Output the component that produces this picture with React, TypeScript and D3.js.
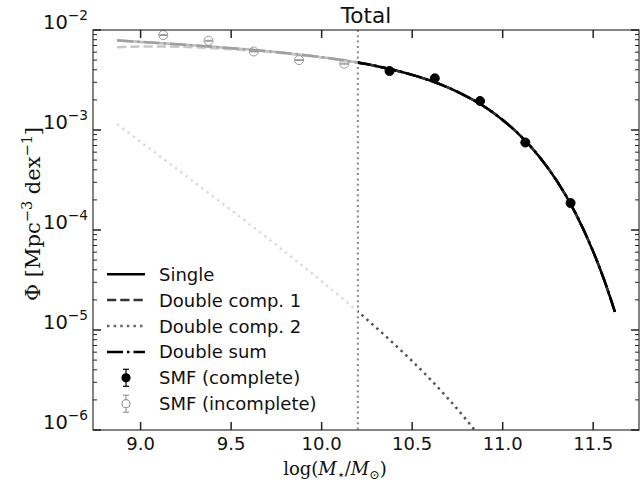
import React from "react";
import * as d3 from "d3";

// curve sample grid (log stellar mass)
const massGrid = [8.87, 9.0, 9.2, 9.4, 9.6, 9.8, 10.0, 10.2, 10.3, 10.4, 10.5, 10.6, 10.7, 10.8, 10.9, 11.0, 11.1, 11.2, 11.3, 11.4, 11.5, 11.56, 11.62];
const singlePhi = [7.87e-3, 7.6e-3, 7.21e-3, 6.79e-3, 6.37e-3, 5.89e-3, 5.35e-3, 4.72e-3, 4.37e-3, 3.98e-3, 3.56e-3, 3.12e-3, 2.65e-3, 2.17e-3, 1.71e-3, 1.26e-3, 8.69e-4, 5.47e-4, 3.08e-4, 1.5e-4, 6.08e-5, 3.19e-5, 1.52e-5];
const comp1Phi = [6.73e-3, 6.84e-3, 6.81e-3, 6.58e-3, 6.25e-3, 5.83e-3, 5.32e-3, 4.7e-3, 4.36e-3, 3.97e-3, 3.56e-3, 3.12e-3, 2.65e-3, 2.17e-3, 1.71e-3, 1.26e-3, 8.69e-4, 5.47e-4, 3.08e-4, 1.5e-4, 6.08e-5, 3.19e-5, 1.52e-5];
const comp2Mass = [8.87, 9.0, 9.2, 9.4, 9.6, 9.8, 10.0, 10.2, 10.3, 10.4, 10.5, 10.6, 10.7, 10.8, 10.9];
const comp2Phi = [1.15e-3, 7.62e-4, 4.08e-4, 2.17e-4, 1.15e-4, 5.98e-5, 3.07e-5, 1.53e-5, 1.06e-5, 7.26e-6, 4.89e-6, 3.21e-6, 2.05e-6, 1.26e-6, 7.43e-7];
const sumPhi = [7.88e-3, 7.6e-3, 7.22e-3, 6.8e-3, 6.37e-3, 5.89e-3, 5.35e-3, 4.72e-3, 4.37e-3, 3.98e-3, 3.56e-3, 3.12e-3, 2.65e-3, 2.17e-3, 1.71e-3, 1.26e-3, 8.69e-4, 5.47e-4, 3.08e-4, 1.5e-4, 6.08e-5, 3.19e-5, 1.52e-5];

// SMF points
const completeMass = [10.375, 10.625, 10.875, 11.125, 11.375];
const completePhi = [3.89e-3, 3.29e-3, 1.95e-3, 7.5e-4, 1.86e-4];
const completeErr = [6e-5, 5e-5, 3e-5, 1.5e-5, 6e-6];
const incompleteMass = [9.125, 9.375, 9.625, 9.875, 10.125];
const incompletePhi = [8.9e-3, 7.8e-3, 6.1e-3, 5.0e-3, 4.6e-3];
const incompleteErr = [9e-5, 8e-5, 6e-5, 5e-5, 5e-5];

const completenessLimit = 10.2;
const xTickValues = [9.0, 9.5, 10.0, 10.5, 11.0, 11.5];
const yTickExps = [-2, -3, -4, -5, -6];
const legendLabels = ["Single", "Double comp. 1", "Double comp. 2", "Double sum", "SMF (complete)", "SMF (incomplete)"];

const W = 640, H = 486;
const m = { left: 93, right: 639, top: 30, bottom: 430 };
const sans = "DejaVu Sans, sans-serif";
const serif = "DejaVu Serif, serif";

export default function App() {
  const x = d3.scaleLinear().domain([8.737, 11.753]).range([m.left, m.right]);
  const y = d3.scaleLog().domain([1e-6, 1e-2]).range([m.bottom, m.top]);
  const xl = x(completenessLimit);

  const line = d3.line<[number, number]>().x(d => x(d[0])).y(d => y(d[1])).curve(d3.curveMonotoneX);
  const singlePath = line(massGrid.map((v, i) => [v, singlePhi[i]]) as [number, number][]) || "";
  const comp1Path = line(massGrid.map((v, i) => [v, comp1Phi[i]]) as [number, number][]) || "";
  const comp2Path = line(comp2Mass.map((v, i) => [v, comp2Phi[i]]) as [number, number][]) || "";
  const sumPath = line(massGrid.map((v, i) => [v, sumPhi[i]]) as [number, number][]) || "";

  const curves = [
    { d: singlePath, dash: "none", w: 2.5, light: "#bdbdbd", dark: "#000" },
    { d: comp1Path, dash: "9.25,4", w: 2.5, light: "#c8c8c8", dark: "#333" },
    { d: comp2Path, dash: "2.5,4.1", w: 2.5, light: "#dcdcdc", dark: "#555" },
    { d: sumPath, dash: "16,4,2.5,4", w: 2.5, light: "#a0a0a0", dark: "#000" },
  ];

  const minorY: number[] = [];
  for (let e = -6; e < -2; e++) for (let k = 2; k <= 9; k++) minorY.push(k * Math.pow(10, e));

  const legendBase = 280.7, legendStep = 25.9;

  return (
    <svg width={W} height={H} style={{ position: "absolute", left: 0, top: 0, background: "#fff" }}>
      <defs>
        <clipPath id="plot"><rect x={m.left} y={m.top} width={m.right - m.left} height={m.bottom - m.top} /></clipPath>
        <clipPath id="lowMass"><rect x={m.left} y={m.top} width={xl - m.left} height={m.bottom - m.top} /></clipPath>
        <clipPath id="highMass"><rect x={xl} y={m.top} width={m.right - xl} height={m.bottom - m.top} /></clipPath>
      </defs>

      <g clipPath="url(#plot)">
        <line x1={xl} x2={xl} y1={m.top} y2={m.bottom} stroke="#888" strokeWidth={2} strokeDasharray="2,3.3" />
        {curves.map((c, i) => (
          <g key={i} fill="none" strokeWidth={c.w} strokeDasharray={c.dash}>
            <path d={c.d} stroke={c.light} clipPath="url(#lowMass)" />
            <path d={c.d} stroke={c.dark} clipPath="url(#highMass)" />
          </g>
        ))}
        {incompleteMass.map((v, i) => {
          const cx = x(v), y1 = y(incompletePhi[i] - incompleteErr[i]), y2 = y(incompletePhi[i] + incompleteErr[i]);
          return (
            <g key={"i" + i} stroke="#999" strokeWidth={1}>
              <line x1={cx} x2={cx} y1={y1} y2={y2} />
              <line x1={cx - 4} x2={cx + 4} y1={y1} y2={y1} />
              <line x1={cx - 4} x2={cx + 4} y1={y2} y2={y2} />
              <circle cx={cx} cy={y(incompletePhi[i])} r={4.5} fill="none" />
            </g>
          );
        })}
        {completeMass.map((v, i) => {
          const cx = x(v), y1 = y(completePhi[i] - completeErr[i]), y2 = y(completePhi[i] + completeErr[i]);
          return (
            <g key={"c" + i} stroke="#000" strokeWidth={1}>
              <line x1={cx} x2={cx} y1={y1} y2={y2} />
              <line x1={cx - 4} x2={cx + 4} y1={y1} y2={y1} />
              <line x1={cx - 4} x2={cx + 4} y1={y2} y2={y2} />
              <circle cx={cx} cy={y(completePhi[i])} r={4.5} fill="#000" />
            </g>
          );
        })}
      </g>

      {/* spines */}
      <rect x={m.left} y={m.top} width={m.right - m.left} height={m.bottom - m.top} fill="none" stroke="#333" strokeWidth={1.2} />

      {/* x ticks */}
      {xTickValues.map(v => (
        <g key={v} stroke="#222" strokeWidth={1.5}>
          <line x1={x(v)} x2={x(v)} y1={m.bottom} y2={m.bottom - 8} />
          <line x1={x(v)} x2={x(v)} y1={m.top} y2={m.top + 8} />
        </g>
      ))}
      {xTickValues.map(v => (
        <text key={"t" + v} x={x(v)} y={450} textAnchor="middle" fontFamily={sans} fontSize={18} fill="#111">{v.toFixed(1)}</text>
      ))}

      {/* y ticks */}
      {yTickExps.map(e => (
        <g key={e} stroke="#222" strokeWidth={1.5}>
          <line x1={m.left} x2={m.left + 8} y1={y(Math.pow(10, e))} y2={y(Math.pow(10, e))} />
          <line x1={m.right} x2={m.right - 8} y1={y(Math.pow(10, e))} y2={y(Math.pow(10, e))} />
        </g>
      ))}
      {minorY.map((v, i) => (
        <g key={"m" + i} stroke="#222" strokeWidth={1}>
          <line x1={m.left} x2={m.left + 4} y1={y(v)} y2={y(v)} />
          <line x1={m.right} x2={m.right - 4} y1={y(v)} y2={y(v)} />
        </g>
      ))}
      {yTickExps.map(e => (
        <text key={"yt" + e} x={88} y={y(Math.pow(10, e)) - 0.7} textAnchor="end" fontFamily={sans} fontSize={19.5} fill="#111">
          10<tspan dy={-9} fontSize={13.7}>{"\u2212" + Math.abs(e)}</tspan>
        </text>
      ))}

      {/* title and labels */}
      <text x={(m.left + m.right) / 2} y={23} textAnchor="middle" fontFamily={sans} fontSize={21.6} fill="#111">Total</text>
      <text x={335} y={475} textAnchor="middle" fontFamily={serif} fontSize={18} fill="#111">
        log(<tspan fontStyle="italic">M</tspan><tspan dy={4} fontSize={12.6}>⋆</tspan><tspan dy={-4}>/</tspan><tspan fontStyle="italic">M</tspan><tspan dy={4} fontSize={12.6}>⊙</tspan><tspan dy={-4}>)</tspan>
      </text>
      <text transform={`translate(40,214) rotate(-90)`} textAnchor="middle" fontFamily={serif} fontSize={21} fill="#111">
        Φ [Mpc<tspan dy={-8} fontSize={14.5}>−3</tspan><tspan dy={8}> dex</tspan><tspan dy={-8} fontSize={14.5}>−1</tspan><tspan dy={8}>]</tspan>
      </text>

      {/* legend */}
      {legendLabels.map((label, i) => {
        const by = legendBase + i * legendStep;
        const cy = by - 6.5;
        let handle: React.ReactNode = null;
        if (i < 4) {
          const c = curves[i];
          handle = <line x1={107} x2={145} y1={cy} y2={cy} stroke={i === 2 ? "#666" : c.dark} strokeWidth={c.w} strokeDasharray={c.dash} />;
        } else {
          const col = i === 4 ? "#000" : "#999";
          handle = (
            <g stroke={col} strokeWidth={1.2}>
              <line x1={126} x2={126} y1={cy - 8.5} y2={cy + 8.5} />
              <line x1={123} x2={129} y1={cy - 8.5} y2={cy - 8.5} />
              <line x1={123} x2={129} y1={cy + 8.5} y2={cy + 8.5} />
              <circle cx={126} cy={cy} r={4} fill={i === 4 ? "#000" : "#fff"} />
            </g>
          );
        }
        return (
          <g key={label}>
            {handle}
            <text x={159} y={by} fontFamily={sans} fontSize={18} fill="#111">{label}</text>
          </g>
        );
      })}
    </svg>
  );
}
